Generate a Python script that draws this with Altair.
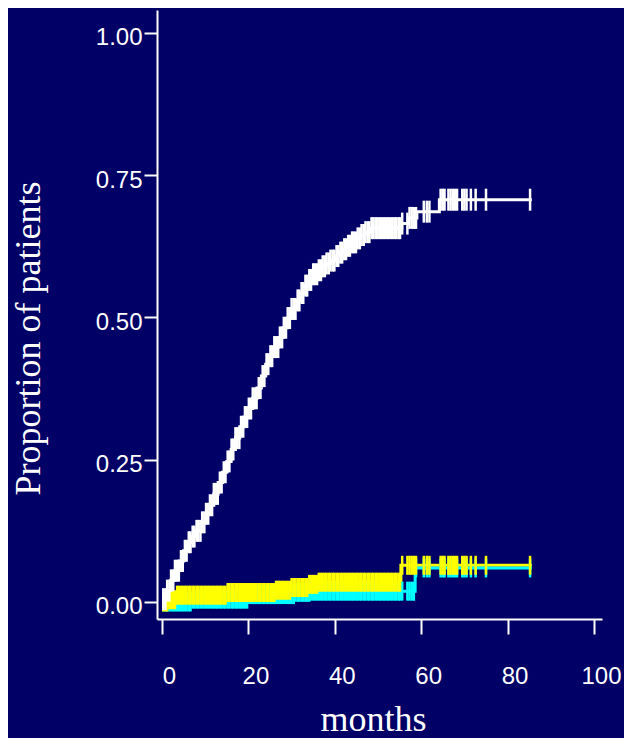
import bisect
import altair as alt
import pandas as pd

# ---- data (months, cumulative proportion) ----
months_white = [0, 1, 2, 3, 4, 5, 6, 7, 8, 9, 10, 11, 12, 13, 14, 15, 16, 17, 18, 19,
                20, 21, 22, 23, 24, 25, 26, 27, 28, 29, 30, 31, 32, 33, 34, 35, 36, 37,
                38, 39, 40, 41, 42, 43, 44, 45, 46, 47, 48.5, 55.5, 57, 59, 64.2, 85.6]
prop_white = [0.005, 0.02, 0.038, 0.055, 0.072, 0.09, 0.105, 0.115, 0.125, 0.14, 0.155,
              0.17, 0.19, 0.21, 0.228, 0.247, 0.268, 0.288, 0.308, 0.325, 0.34, 0.358,
              0.376, 0.397, 0.418, 0.432, 0.448, 0.465, 0.482, 0.499, 0.515, 0.53, 0.543,
              0.556, 0.566, 0.576, 0.583, 0.59, 0.595, 0.6, 0.608, 0.614, 0.62, 0.626,
              0.632, 0.639, 0.645, 0.65, 0.657, 0.665, 0.675, 0.686, 0.707, 0.707]

months_yellow = [0, 1.4, 3.5, 15.0, 26.2, 30.0, 34.0, 36.1, 55.3, 85.6]
prop_yellow = [0, 0.004, 0.012, 0.0167, 0.0207, 0.0255, 0.031, 0.0348, 0.0645, 0.0645]

months_cyan = [0, 6.9, 19.9, 30.8, 34.3, 58.6, 85.6]
prop_cyan = [0, 0.005, 0.013, 0.017, 0.019, 0.0598, 0.0598]

censor_months = [0.3, 0.8, 1.2, 1.7, 2.1, 2.6, 3.0, 3.5, 3.9, 4.4, 4.8, 5.3, 5.7, 6.2,
                 6.6, 7.1, 7.5, 8.0, 8.4, 8.9, 9.3, 9.8, 10.2, 10.7, 11.1, 11.6, 12.0,
                 12.5, 12.9, 13.4, 13.8, 14.3, 14.7, 15.2, 15.6, 16.1, 16.5, 17.0, 17.4,
                 17.9, 18.3, 18.8, 19.2, 19.7, 20.1, 20.6, 21.0, 21.5, 21.9, 22.4, 22.8,
                 23.3, 23.7, 24.2, 24.6, 25.1, 25.5, 26.0, 26.4, 26.9, 27.3, 27.8, 28.2,
                 28.7, 29.1, 29.6, 30.0, 30.5, 30.9, 31.4, 31.8, 32.3, 32.7, 33.2, 33.6,
                 34.1, 34.5, 35.0, 35.4, 35.9, 36.3, 36.8, 37.2, 37.7, 38.1, 38.6, 39.0,
                 39.5, 39.9, 40.4, 40.8, 41.3, 41.7, 42.2, 42.6, 43.1, 43.5, 44.0, 44.4,
                 44.9, 45.3, 45.8, 46.2, 46.7, 47.1, 47.6, 48.0, 48.5, 48.9, 49.4, 49.8,
                 50.3, 50.7, 51.2, 51.6, 52.1, 52.5, 53.0, 53.4, 53.9, 54.3, 54.8,
                 55.1, 55.6, 56.8, 57.3, 57.8, 58.3, 58.8, 60.6, 61.3, 61.9, 64.5, 65.0,
                 65.4, 66.3, 66.8, 67.3, 67.8, 68.3, 69.5, 70.0, 70.5, 71.5, 72.6, 75.0,
                 85.2]

x_ticks = [0, 20, 40, 60, 80, 100]
y_ticks = [0, 0.25, 0.5, 0.75, 1.0]

BG = "#000066"


def step_at(ts, ps, t):
    i = bisect.bisect_right(ts, t) - 1
    return ps[max(i, 0)]


def curve_df(ts, ps):
    return pd.DataFrame({"t": ts, "p": ps})


def censor_df(ts, ps):
    return pd.DataFrame({"t": censor_months,
                         "p": [step_at(ts, ps, c) for c in censor_months]})


x_enc = alt.X(
    "t:Q",
    scale=alt.Scale(domain=[-1.157, 101.85], nice=False, zero=False),
    axis=alt.Axis(
        values=x_ticks, format="d", grid=False, title="months",
        domainColor="white", domainWidth=2, tickColor="white", tickWidth=2,
        tickSize=15, labelColor="white", labelFont="Liberation Sans",
        labelFontSize=24, labelPadding=30, labelOffset=7, labelFlush=False,
        labelOverlap=False, titleColor="white", titleFont="Liberation Serif",
        titleFontSize=36, titleFontWeight="normal", titleX=216, titleY=111,
        titleAlign="center", titleBaseline="alphabetic",
    ),
)
y_enc = alt.Y(
    "p:Q",
    scale=alt.Scale(domain=[-0.0299, 1.0404], nice=False, zero=False),
    axis=alt.Axis(
        values=y_ticks, format=".2f", grid=False, title="Proportion of patients",
        domainColor="white", domainWidth=2, tickColor="white", tickWidth=2,
        tickSize=13, labelColor="white", labelFont="Liberation Sans",
        labelFontSize=24, labelPadding=2, labelOffset=5, labelFlush=False,
        labelOverlap=False, labelBaseline="middle",
        titleColor="white", titleFont="Liberation Serif", titleFontSize=36,
        titleFontWeight="normal", titleAngle=270, titleX=-129, titleY=328,
        titleAlign="center", titleBaseline="middle",
    ),
)


def line_layer(df, color):
    return alt.Chart(df).mark_line(
        interpolate="step-after", strokeWidth=3, color=color, strokeCap="butt",
        opacity=1,
    ).encode(x=x_enc, y=y_enc)


def tick_layer(df, color, size):
    return alt.Chart(df).mark_tick(
        orient="vertical", size=size, thickness=2.5, color=color, opacity=1
    ).encode(x=x_enc, y=y_enc)


layers = [
    line_layer(curve_df(months_yellow, prop_yellow), "#FFFF00"),
    line_layer(curve_df(months_cyan, prop_cyan), "#00FFFF"),
    tick_layer(censor_df(months_cyan, prop_cyan), "#00FFFF", 19),
    tick_layer(censor_df(months_yellow, prop_yellow), "#FFFF00", 19),
    line_layer(curve_df(months_white, prop_white), "#FFFFFF"),
    tick_layer(censor_df(months_white, prop_white), "#FFFFFF", 22),
]

chart = alt.layer(*layers).properties(
    width=445,
    height=609,
    padding={"left": 149, "top": 2, "right": 22, "bottom": 119},
    autosize=alt.AutoSizeParams(type="none"),
    background=BG,
).configure_view(strokeWidth=0)

chart.save("out.html", embed_options={"renderer": "svg", "actions": False})
